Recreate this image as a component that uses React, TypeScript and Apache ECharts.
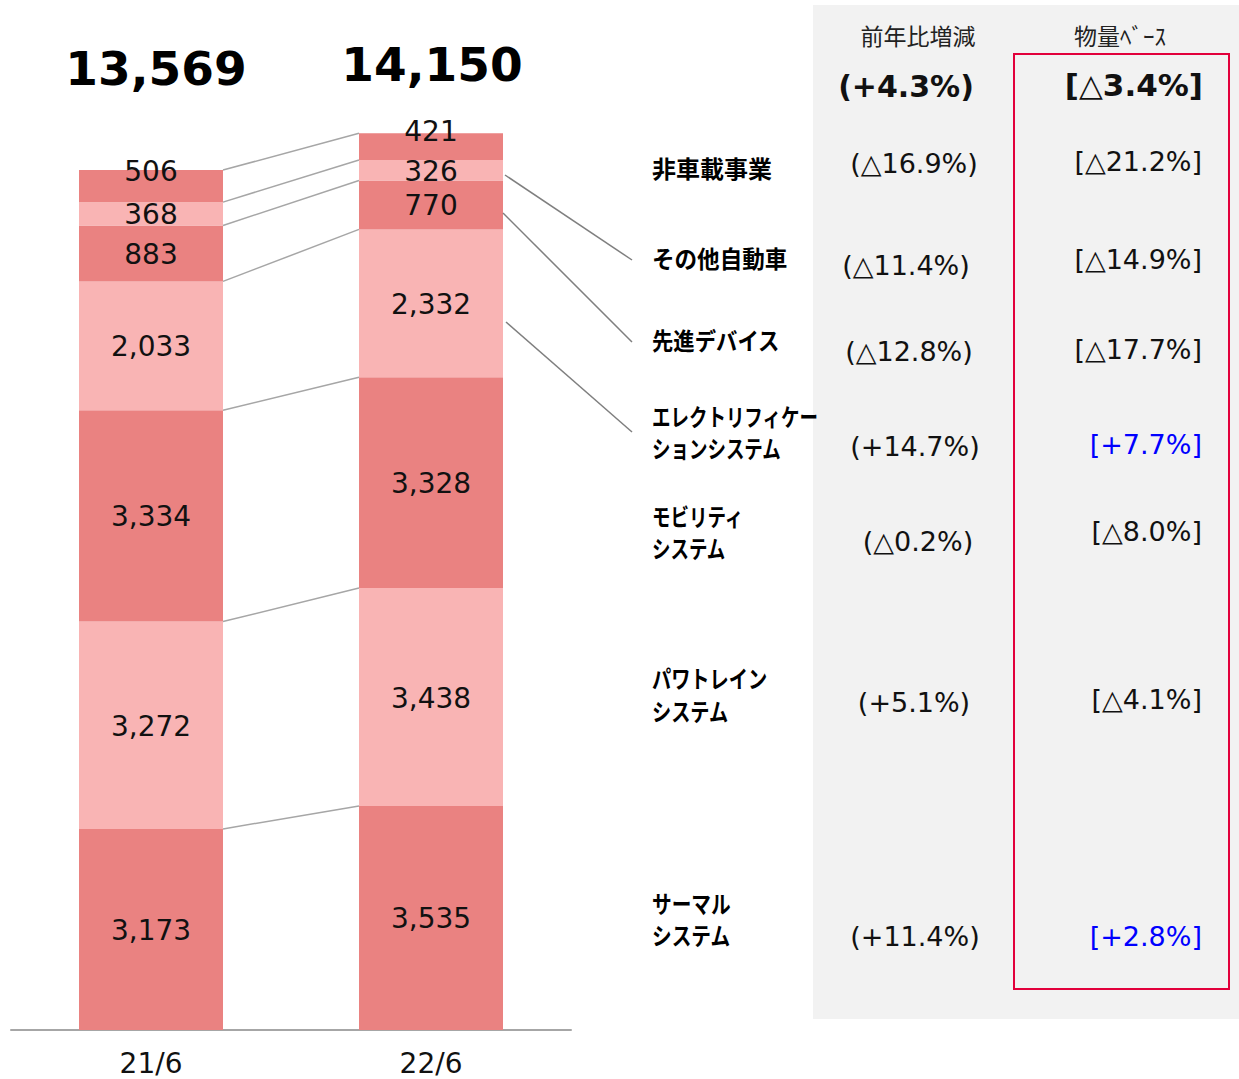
import React, { useEffect, useRef } from 'react';
import * as echarts from 'echarts';

// ---------- data ----------
const periods = ['21/6', '22/6'];
// stack order: bottom -> top
const segmentNames = [
  'サーマルシステム',
  'パワトレインシステム',
  'モビリティシステム',
  'エレクトリフィケーションシステム',
  '先進デバイス',
  'その他自動車',
  '非車載事業',
];
const values21 = [3173, 3272, 3334, 2033, 883, 368, 506];
const values22 = [3535, 3438, 3328, 2332, 770, 326, 421];
const rowLabels = [
  'サーマル\nシステム',
  'パワトレイン\nシステム',
  'モビリティ\nシステム',
  'エレクトリフィケー\nションシステム',
  '先進デバイス',
  'その他自動車',
  '非車載事業',
];
const yoyChange = ['(+11.4%)', '(+5.1%)', '(△0.2%)', '(+14.7%)', '(△12.8%)', '(△11.4%)', '(△16.9%)'];
const volumeBase = ['[+2.8%]', '[△4.1%]', '[△8.0%]', '[+7.7%]', '[△17.7%]', '[△14.9%]', '[△21.2%]'];
const volumePositive = [true, false, false, true, false, false, false];
const headerYoy = '前年比増減';
const headerVolume = '物量ﾍﾞｰｽ';
const totalYoy = '(+4.3%)';
const totalVolume = '[△3.4%]';

// ---------- layout (pixel positions of table rows) ----------
const labelRowY = [919, 694, 531, 431, 340, 258, 167];
const labelScaleX = [0.82, 0.8, 0.77, 0.77, 0.89, 0.94, 1.0];
const yoyRowY = [936, 702, 541, 446, 351, 265, 163];
const yoyRowX = [915, 914, 918, 915, 909, 906, 914];
const volRowY = [936, 699, 531, 444, 349, 259, 161];

const DARK = '#EA8281';
const LIGHT = '#F9B4B4';
const NUM_FONT = 'DejaVu Sans, Verdana, sans-serif';
const JP_FONT = '"Noto Sans CJK JP", "Noto Sans", sans-serif';

function fmt(v: number) {
  return v.toLocaleString('en-US');
}

export default function App() {
  const ref = useRef<HTMLDivElement>(null);

  useEffect(() => {
    if (!ref.current) return;
    const chart = echarts.init(ref.current, undefined, { renderer: 'svg' });

    const cum21: number[] = [];
    const cum22: number[] = [];
    let a = 0;
    let b = 0;
    for (let i = 0; i < values21.length; i++) {
      a += values21[i];
      b += values22[i];
      cum21.push(a);
      cum22.push(b);
    }
    const totals = [a, b];
    const barWidth = 144;

    const barSeries = segmentNames.map((name, i) => ({
      name,
      type: 'bar',
      stack: 'total',
      barWidth,
      data: [values21[i], values22[i]],
      itemStyle: { color: i % 2 === 0 ? DARK : LIGHT },
      label: {
        show: true,
        position: 'inside',
        offset: i === segmentNames.length - 1 ? [0, -15] : [0, 1],
        fontSize: 28,
        fontFamily: NUM_FONT,
        color: '#111',
        formatter: (p: any) => fmt(p.value),
      },
      emphasis: { disabled: true },
    }));

    const connectorSeries = {
      type: 'custom',
      silent: true,
      data: cum21.map((c, i) => [0, c, cum22[i]]),
      encode: { x: 0, y: 1 },
      renderItem: (params: any, api: any) => {
        const p1 = api.coord([0, api.value(1)]);
        const p2 = api.coord([1, api.value(2)]);
        return {
          type: 'line',
          shape: { x1: p1[0] + barWidth / 2, y1: p1[1], x2: p2[0] - barWidth / 2, y2: p2[1] },
          style: { stroke: '#A6A6A6', lineWidth: 1.5 },
        };
      },
      z: 1,
    };

    const graphics: any[] = [];
    // table background
    graphics.push({
      type: 'rect',
      shape: { x: 813, y: 5, width: 426, height: 1014 },
      style: { fill: '#F2F2F2' },
      z: 0,
    });
    graphics.push({
      type: 'rect',
      shape: { x: 1014, y: 54, width: 215, height: 935 },
      style: { fill: 'none', stroke: '#E2003B', lineWidth: 2 },
      z: 1,
    });
    const txt = (text: string, x: number, y: number, opts: any) => ({
      type: 'text',
      x,
      y,
      z: 5,
      scaleX: opts.scaleX || 1,
      style: {
        text,
        fill: opts.fill || '#111',
        fontSize: opts.fontSize,
        fontFamily: opts.fontFamily,
        fontWeight: opts.fontWeight || 'normal',
        lineHeight: opts.lineHeight,
        align: opts.align || 'center',
        textAlign: opts.align || 'center',
        verticalAlign: 'middle',
        textVerticalAlign: 'middle',
      },
    });
    // totals above bars
    graphics.push(txt(fmt(totals[0]), 156, 68, { fontSize: 47, fontWeight: 'bold', fontFamily: NUM_FONT, fill: '#000' }));
    graphics.push(txt(fmt(totals[1]), 432, 64, { fontSize: 47, fontWeight: 'bold', fontFamily: NUM_FONT, fill: '#000' }));
    // headers
    graphics.push(txt(headerYoy, 918, 35, { fontSize: 23, fontFamily: JP_FONT, fill: '#222' }));
    graphics.push(txt(headerVolume, 1120, 35, { fontSize: 23, fontFamily: JP_FONT, fill: '#222' }));
    graphics.push(txt(totalYoy, 906, 86, { fontSize: 30, fontWeight: 'bold', fontFamily: NUM_FONT, fill: '#111' }));
    graphics.push(txt(totalVolume, 1203, 85, { fontSize: 31, fontWeight: 'bold', fontFamily: NUM_FONT, fill: '#111', align: 'right' }));
    // rows
    rowLabels.forEach((t, i) => {
      graphics.push(txt(t, 652, labelRowY[i], { fontSize: 24, fontWeight: 'bold', fontFamily: JP_FONT, fill: '#000', align: 'left', lineHeight: 32, scaleX: labelScaleX[i] }));
      graphics.push(txt(yoyChange[i], yoyRowX[i], yoyRowY[i], { fontSize: 27, fontFamily: NUM_FONT, fill: '#111' }));
      graphics.push(txt(volumeBase[i], 1202, volRowY[i], { fontSize: 27, fontFamily: NUM_FONT, fill: volumePositive[i] ? '#0000FF' : '#111', align: 'right' }));
    });
    // callout lines
    const callouts = [
      [505, 175, 632, 260],
      [503, 213, 632, 342],
      [506, 322, 632, 432],
    ];
    callouts.forEach((c) => {
      graphics.push({
        type: 'line',
        shape: { x1: c[0], y1: c[1], x2: c[2], y2: c[3] },
        style: { stroke: '#7F7F7F', lineWidth: 1.5 },
        z: 5,
      });
    });

    chart.setOption({
      animation: false,
      grid: { left: 11, right: 668, top: 16, bottom: 49, containLabel: false },
      xAxis: {
        type: 'category',
        data: periods,
        axisLine: { lineStyle: { color: '#A6A6A6', width: 2 } },
        axisTick: { show: false },
        axisLabel: { fontSize: 28, fontFamily: NUM_FONT, color: '#111', margin: 19 },
      },
      yAxis: {
        type: 'value',
        min: 0,
        max: 16000,
        show: false,
        splitLine: { show: false },
      },
      series: [...barSeries, connectorSeries],
      graphic: { elements: graphics },
    });

    return () => chart.dispose();
  }, []);

  return (
    <div
      ref={ref}
      style={{ position: 'absolute', left: 0, top: 0, width: 1239, height: 1079, background: '#fff' }}
    />
  );
}
